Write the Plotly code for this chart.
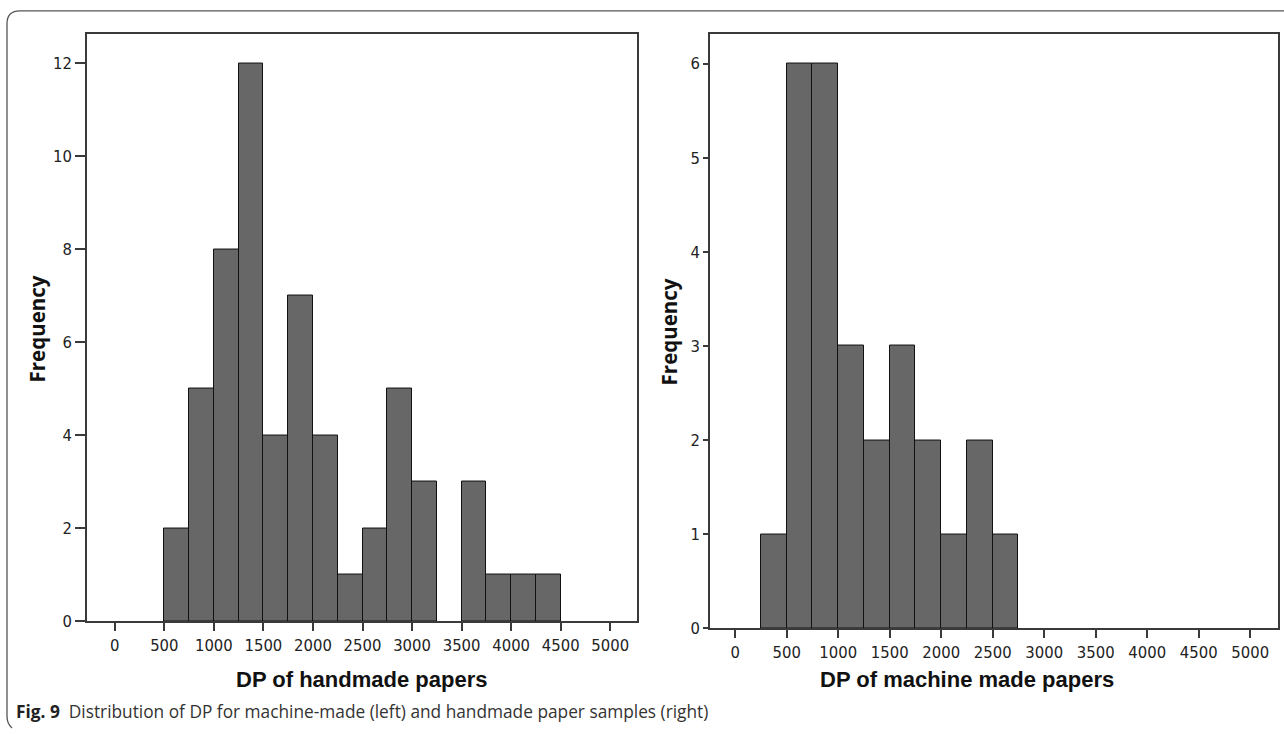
import plotly.graph_objects as go

# ---------------- data ----------------
bin_width = 250
left_bin_starts = [500, 750, 1000, 1250, 1500, 1750, 2000, 2250, 2500, 2750, 3000, 3500, 3750, 4000, 4250]
left_counts = [2, 5, 8, 12, 4, 7, 4, 1, 2, 5, 3, 3, 1, 1, 1]

right_bin_starts = [250, 500, 750, 1000, 1250, 1500, 1750, 2000, 2250, 2500]
right_counts = [1, 6, 6, 3, 2, 3, 2, 1, 2, 1]

x_ticks = [0, 500, 1000, 1500, 2000, 2500, 3000, 3500, 4000, 4500, 5000]
left_y_ticks = [0, 2, 4, 6, 8, 10, 12]
right_y_ticks = [0, 1, 2, 3, 4, 5, 6]

left_xtitle = "DP of handmade papers"
right_xtitle = "DP of machine made papers"
ytitle = "Frequency"
caption_bold = "Fig. 9"
caption_text = "Distribution of DP for machine-made (left) and handmade paper samples (right)"

# ---------------- layout helpers ----------------
W, H = 1284, 734


def px(x):
    return x / W


def py(y):
    return 1 - y / H


BAR_FILL = "#676767"
FRAME = "#3a3a3a"
TICK_FONT = dict(family="DejaVu Sans Condensed, DejaVu Sans", size=16.5, color="#222")

fig = go.Figure()

fig.add_trace(go.Bar(
    x=left_bin_starts, y=left_counts, width=bin_width, offset=0,
    marker=dict(color=BAR_FILL, line=dict(color="#111", width=1)),
    xaxis="x", yaxis="y", showlegend=False, hoverinfo="x+y",
))
fig.add_trace(go.Bar(
    x=right_bin_starts, y=right_counts, width=bin_width, offset=0,
    marker=dict(color=BAR_FILL, line=dict(color="#111", width=1)),
    xaxis="x2", yaxis="y2", showlegend=False, hoverinfo="x+y",
))

common_x = dict(
    tickvals=x_ticks, ticks="outside", ticklen=8, tickwidth=1.5, tickcolor=FRAME,
    showline=True, linecolor=FRAME, linewidth=1.5, mirror=True,
    showgrid=False, zeroline=False, tickfont=TICK_FONT,
)
common_y = dict(
    ticks="outside", tickwidth=1.5, tickcolor=FRAME,
    showline=True, linecolor=FRAME, linewidth=1.5, mirror=True,
    showgrid=False, zeroline=False, tickfont=TICK_FONT,
)

fig.update_layout(
    width=W, height=H,
    margin=dict(l=0, r=0, t=0, b=0),
    paper_bgcolor="white", plot_bgcolor="white",
    bargap=0,
    xaxis=dict(domain=[px(87), px(637)], range=[-280, 5270], anchor="y", **common_x),
    yaxis=dict(domain=[py(630), py(34)], range=[0, 12.64], tickvals=left_y_ticks,
               ticklen=10, anchor="x", **common_y),
    xaxis2=dict(domain=[px(710), px(1278)], range=[-245, 5270], anchor="y2", **common_x),
    yaxis2=dict(domain=[py(637), py(34)], range=[0, 6.32], tickvals=right_y_ticks,
                ticklen=5, anchor="x2", **common_y),
)

title_font = dict(family="Liberation Sans, Arial", size=22, color="#111")
freq_font = dict(family="Open Sans, Liberation Sans", size=20.5, color="#111")

annotations = [
    dict(text="<b>%s</b>" % left_xtitle, x=px(362), y=py(689), xref="paper", yref="paper",
         showarrow=False, font=title_font, xanchor="center", yanchor="middle"),
    dict(text="<b>%s</b>" % right_xtitle, x=px(967), y=py(689), xref="paper", yref="paper",
         showarrow=False, font=title_font, xanchor="center", yanchor="middle"),
    dict(text="<b>%s</b>" % ytitle, x=px(37), y=py(334), xref="paper", yref="paper",
         showarrow=False, font=freq_font, textangle=-90, xanchor="center", yanchor="middle"),
    dict(text="<b>%s</b>" % ytitle, x=px(669), y=py(337), xref="paper", yref="paper",
         showarrow=False, font=freq_font, textangle=-90, xanchor="center", yanchor="middle"),
    dict(text="<b>%s</b>  <span style='color:#333'>%s</span>" % (caption_bold, caption_text),
         x=px(14), y=py(721), xref="paper", yref="paper", showarrow=False,
         font=dict(family="Open Sans, Liberation Sans", size=17.3, color="#222"),
         xanchor="left", yanchor="middle"),
]
fig.update_layout(annotations=annotations)

# outer rounded frame (top-left rounded corner)
path = "M {} {} L {} {} Q {} {} {} {} L {} {} Q {} {} {} {}".format(
    px(1300), py(11), px(20), py(11), px(7), py(11), px(7), py(24),
    px(7), py(726), px(7), py(734), px(12), py(738))
fig.add_shape(type="path", path=path, xref="paper", yref="paper",
              line=dict(color="#555", width=1.3))

# the page body has a default 8px margin; remove it so the figure fills the window
fig.write_html("out.html", config={"displayModeBar": False},
               post_script="document.body.style.margin='0px';")
